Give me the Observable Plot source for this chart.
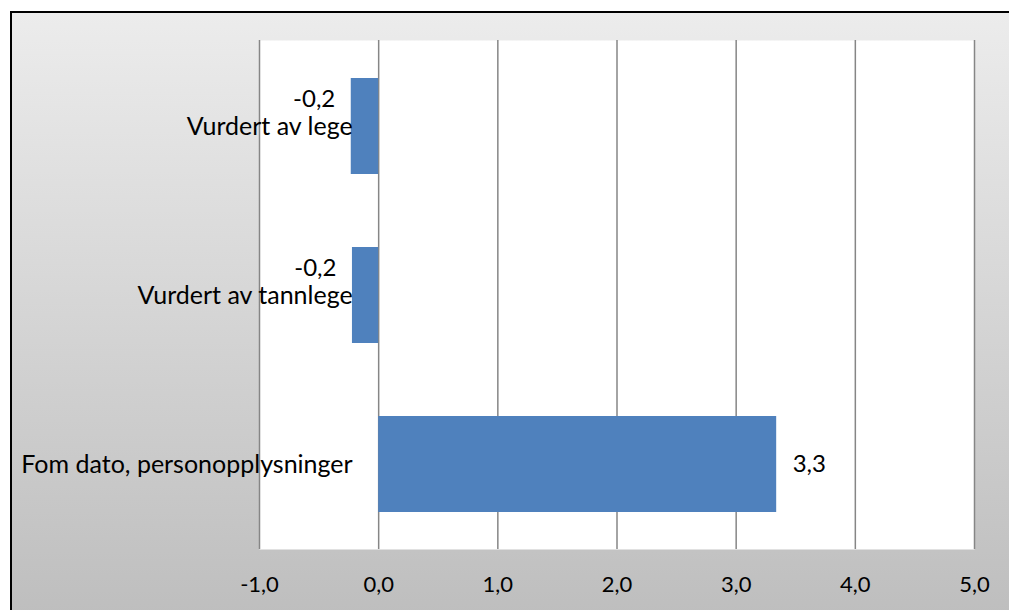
<!DOCTYPE html>
<html>
<head>
<meta charset="utf-8">
<script src="https://cdn.jsdelivr.net/npm/d3@7"></script>
<script src="https://cdn.jsdelivr.net/npm/@observablehq/plot@0.6"></script>
<style>
  html, body { margin: 0; padding: 0; width: 1009px; height: 610px; overflow: hidden; background: #ffffff; }
  #bg { position: absolute; left: 10px; top: 11px; width: 1020px; height: 620px;
        border: 2px solid #000; background: linear-gradient(to bottom, #ececec, #bdbdbd); box-sizing: border-box; }
  #chart { position: absolute; left: 0; top: 0; }
</style>
</head>
<body>
<div id="bg"></div>
<div id="chart"></div>
<script>
const categories = ["Vurdert av lege", "Vurdert av tannlege", "Fom dato, personopplysninger"];
const values = [-0.23, -0.22, 3.34];
const xTicks = [-1, 0, 1, 2, 3, 4, 5];

const data = categories.map((c, i) => ({cat: c, value: values[i]}));
const fmt = v => v.toFixed(1).replace(".", ",");
const font = "Lato, 'Open Sans', sans-serif";

const plot = Plot.plot({
  width: 1009,
  height: 610,
  marginLeft: 259,
  marginRight: 35,
  marginTop: 40,
  marginBottom: 61,
  style: {background: "transparent", fontFamily: font, fontSize: "22px", color: "#000"},
  x: {domain: [-1, 5], ticks: xTicks},
  y: {domain: categories, paddingInner: 0.433, paddingOuter: 0.2165},
  marks: [
    Plot.frame({fill: "white", stroke: null}),
    Plot.ruleX(xTicks, {stroke: "#868686", strokeWidth: 1.5}),
    Plot.barX(data, {x: "value", y: "cat", fill: "#4F81BD"}),
    Plot.axisX({ticks: xTicks, tickSize: 0, tickPadding: 27, tickFormat: fmt, fontSize: 22, label: null}),
    Plot.axisY({ticks: [], label: null, tickSize: 0}),
    Plot.text(data, {x: () => 0, y: "cat", text: "cat", textAnchor: "end", dx: -26, fontSize: 25, fill: "#000"}),
    Plot.text(data.filter(d => d.value < 0), {x: "value", y: "cat", text: d => fmt(d.value), textAnchor: "end", dx: -16, dy: -27, fontSize: 24, fill: "#000"}),
    Plot.text(data.filter(d => d.value >= 0), {x: "value", y: "cat", text: d => fmt(d.value), textAnchor: "start", dx: 16, fontSize: 24, fill: "#000"})
  ]
});
document.getElementById("chart").appendChild(plot);
</script>
</body>
</html>
